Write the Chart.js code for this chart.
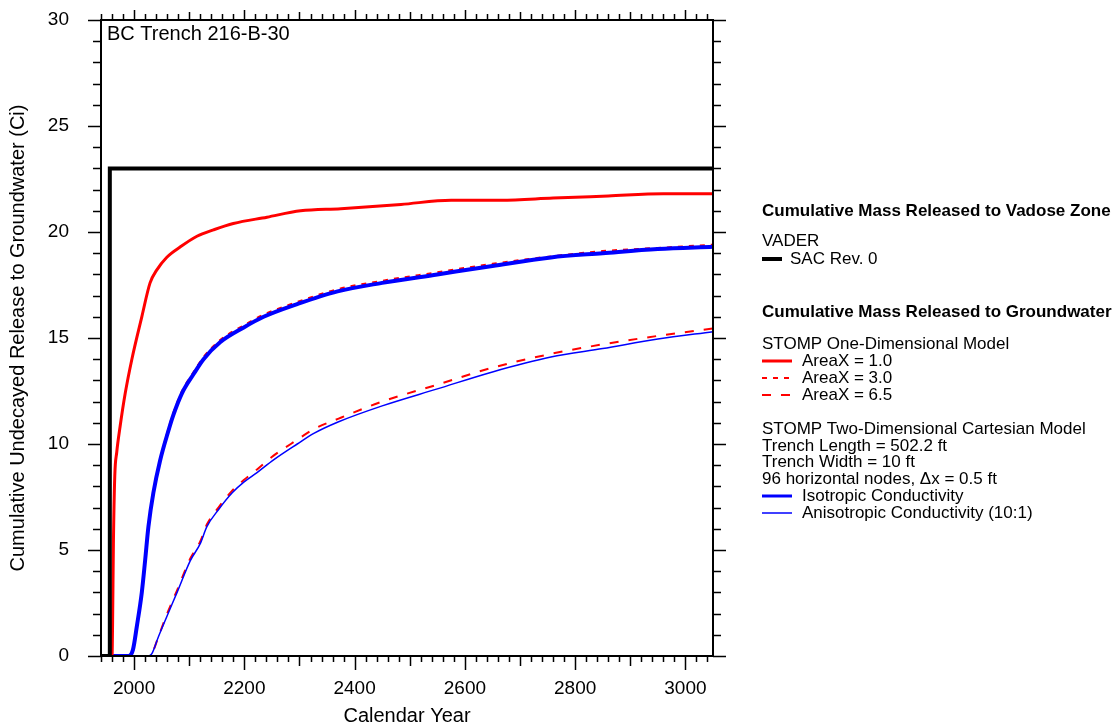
<!DOCTYPE html>
<html>
<head>
<meta charset="utf-8">
<title>BC Trench 216-B-30</title>
<script src="https://cdn.jsdelivr.net/npm/chart.js@4.4.1/dist/chart.umd.min.js"></script>
<style>
  html, body { margin: 0; padding: 0; background: #fff; }
  #wrap { width: 1113px; height: 728px; }
</style>
</head>
<body>
<div id="wrap"><canvas id="releaseChart" width="1113" height="728"></canvas></div>
<script>
// cumulative undecayed release (Ci) against calendar year, one pair of arrays per run
const sacYears = [1940, 1956, 1956, 3050];
const sacRelease = [0, 0, 23, 23];

const area1Years = [1940, 1960, 1961, 1962.5, 1965, 1968.5, 1974.5, 1984, 1996, 2014, 2029, 2041, 2059, 2084, 2114, 2144, 2180, 2241, 2302, 2375, 2484, 2575, 2665, 2760, 2860, 2960, 3050];
const area1Release = [0, 0, 1.5, 5.3, 8.5, 9.6, 10.8, 12.4, 14.0, 16.0, 17.6, 18.2, 18.8, 19.3, 19.8, 20.1, 20.4, 20.7, 21.0, 21.1, 21.3, 21.5, 21.5, 21.6, 21.7, 21.8, 21.8];

const isoYears = [1940, 1990, 1998, 2005, 2014, 2020, 2026, 2035, 2047, 2062, 2071, 2087, 2108, 2126, 2156, 2199, 2235, 2296, 2369, 2450, 2550, 2650, 2756, 2850, 2950, 3050];
const isoRelease = [0, 0, 0.3, 1.4, 3.0, 4.5, 6.1, 7.7, 9.2, 10.6, 11.35, 12.4, 13.3, 14.0, 14.8, 15.5, 16.0, 16.6, 17.2, 17.6, 18.0, 18.4, 18.8, 19.0, 19.2, 19.3];
const area3Release = [0, 0, 0.3, 1.4, 3.0, 4.5, 6.1, 7.7, 9.2, 10.7, 11.45, 12.5, 13.4, 14.1, 14.9, 15.6, 16.1, 16.7, 17.3, 17.7, 18.1, 18.5, 18.85, 19.1, 19.25, 19.4];

const anisoYears = [1940, 2025, 2032, 2044, 2060, 2078, 2102, 2120, 2132, 2153, 2178, 2199, 2223, 2253, 2296, 2326, 2371, 2450, 2550, 2650, 2756, 2850, 2950, 3050];
const anisoRelease = [0, 0, 0.1, 0.9, 1.9, 3.0, 4.5, 5.3, 6.1, 6.9, 7.7, 8.2, 8.65, 9.25, 10.0, 10.5, 11.05, 11.8, 12.6, 13.4, 14.1, 14.5, 14.95, 15.3];
const area65Release = [0, 0, 0.1, 0.9, 2.0, 3.1, 4.6, 5.4, 6.2, 7.0, 7.8, 8.3, 8.8, 9.45, 10.2, 10.7, 11.2, 12.0, 12.8, 13.6, 14.25, 14.7, 15.1, 15.45];

const xLabelYears = [2000, 2200, 2400, 2600, 2800, 3000];
const yLabelValues = [0, 5, 10, 15, 20, 25, 30];

const FONT = "'Liberation Sans', Arial, Helvetica, sans-serif";
Chart.defaults.font.family = FONT;
Chart.defaults.color = '#000';

const points = (xs, ys) => xs.map((x, i) => ({ x: x, y: ys[i] }));

// frame, tick marks on all four sides, inner title and the side legend
const framePlugin = {
  id: 'frame',
  afterDatasetsDraw(chart) {
    const { ctx, chartArea: a, scales: { x, y } } = chart;
    ctx.save();
    ctx.strokeStyle = '#000';
    ctx.lineWidth = 2;
    ctx.strokeRect(a.left, a.top, a.right - a.left, a.bottom - a.top);

    ctx.lineWidth = 1.5;
    ctx.beginPath();
    for (let yr = 1940; yr <= 3050; yr += 20) {
      const px = Math.round(x.getPixelForValue(yr)) + 0.5;
      const down = yr % 200 === 0 ? 14 : yr % 100 === 0 ? 10 : 6;
      const up = yr % 200 === 0 ? 10 : yr % 100 === 0 ? 8 : 6;
      ctx.moveTo(px, a.bottom);
      ctx.lineTo(px, a.bottom + down);
      ctx.moveTo(px, a.top);
      ctx.lineTo(px, a.top - up);
    }
    for (let v = 0; v <= 30; v += 1) {
      const py = Math.round(y.getPixelForValue(v)) + 0.5;
      const len = v % 5 === 0 ? 13 : 8;
      ctx.moveTo(a.left, py);
      ctx.lineTo(a.left - len, py);
      ctx.moveTo(a.right, py);
      ctx.lineTo(a.right + len, py);
    }
    ctx.stroke();
    ctx.restore();
  },
  afterDraw(chart) {
    const ctx = chart.ctx;
    const a = chart.chartArea;
    const byLabel = {};
    chart.data.datasets.forEach(d => { byLabel[d.label] = d; });

    ctx.save();
    ctx.fillStyle = '#000';
    ctx.textBaseline = 'middle';
    ctx.textAlign = 'left';
    ctx.font = '20px ' + FONT;
    ctx.fillText('BC Trench 216-B-30', a.left + 6, a.top + 14);

    const rows = [
      { text: 'Cumulative Mass Released to Vadose Zone', y: 211, bold: true },
      { text: 'VADER', y: 241 },
      { text: 'SAC Rev. 0', y: 259, key: 'SAC Rev. 0', short: true },
      { text: 'Cumulative Mass Released to Groundwater', y: 312, bold: true },
      { text: 'STOMP One-Dimensional Model', y: 344 },
      { text: 'AreaX = 1.0', y: 361, key: 'AreaX = 1.0' },
      { text: 'AreaX = 3.0', y: 378, key: 'AreaX = 3.0' },
      { text: 'AreaX = 6.5', y: 395, key: 'AreaX = 6.5' },
      { text: 'STOMP Two-Dimensional Cartesian Model', y: 429 },
      { text: 'Trench Length = 502.2 ft', y: 446 },
      { text: 'Trench Width = 10 ft', y: 462 },
      { text: '96 horizontal nodes, \u0394x = 0.5 ft', y: 479 },
      { text: 'Isotropic Conductivity', y: 496, key: 'Isotropic Conductivity' },
      { text: 'Anisotropic Conductivity (10:1)', y: 513, key: 'Anisotropic Conductivity (10:1)' }
    ];
    const x0 = 762;
    rows.forEach(r => {
      ctx.font = (r.bold ? 'bold ' : '') + '17px ' + FONT;
      if (r.key) {
        const d = byLabel[r.key];
        const x1 = r.short ? x0 + 20 : x0 + 30;
        ctx.save();
        ctx.strokeStyle = d.borderColor;
        ctx.lineWidth = r.short ? 4 : Math.min(d.borderWidth, 3);
        ctx.setLineDash(d.borderDash || []);
        ctx.beginPath();
        ctx.moveTo(x0, r.y);
        ctx.lineTo(x1, r.y);
        ctx.stroke();
        ctx.restore();
        ctx.fillText(r.text, r.short ? x0 + 28 : x0 + 40, r.y);
      } else {
        ctx.fillText(r.text, x0, r.y);
      }
    });
    ctx.restore();
  }
};

const ctx = document.getElementById('releaseChart').getContext('2d');
new Chart(ctx, {
  type: 'line',
  data: {
    datasets: [
      { label: 'SAC Rev. 0', data: points(sacYears, sacRelease), borderColor: '#000000', borderWidth: 4, tension: 0 },
      { label: 'AreaX = 1.0', data: points(area1Years, area1Release), borderColor: '#ff0000', borderWidth: 3, cubicInterpolationMode: 'monotone' },
      { label: 'Isotropic Conductivity', data: points(isoYears, isoRelease), borderColor: '#0000ff', borderWidth: 4, cubicInterpolationMode: 'monotone' },
      { label: 'Anisotropic Conductivity (10:1)', data: points(anisoYears, anisoRelease), borderColor: '#0000ff', borderWidth: 1.5, cubicInterpolationMode: 'monotone' },
      { label: 'AreaX = 3.0', data: points(isoYears, area3Release), borderColor: '#ff0000', borderWidth: 2, borderDash: [5, 6], cubicInterpolationMode: 'monotone' },
      { label: 'AreaX = 6.5', data: points(anisoYears, area65Release), borderColor: '#ff0000', borderWidth: 2, borderDash: [9, 10], cubicInterpolationMode: 'monotone' }
    ]
  },
  options: {
    responsive: false,
    animation: false,
    devicePixelRatio: 1,
    elements: { point: { radius: 0 } },
    layout: { padding: { left: 0, top: 20, right: 400, bottom: 0 } },
    plugins: {
      legend: { display: false },
      tooltip: { enabled: false }
    },
    scales: {
      x: {
        type: 'linear',
        min: 1940,
        max: 3050,
        afterFit: (scale) => { scale.height = 72; scale.paddingLeft = 0; scale.paddingRight = 0; },
        afterBuildTicks: (scale) => { scale.ticks = xLabelYears.map(v => ({ value: v })); },
        grid: { display: false },
        border: { display: false },
        ticks: { font: { size: 19 }, padding: 13, maxRotation: 0, callback: (v) => String(v) },
        title: { display: true, text: 'Calendar Year', font: { size: 20 }, padding: { top: 0, bottom: 0 } }
      },
      y: {
        min: 0,
        max: 30,
        afterFit: (scale) => { scale.width = 101; scale.paddingTop = 0; scale.paddingBottom = 0; },
        afterBuildTicks: (scale) => { scale.ticks = yLabelValues.map(v => ({ value: v })); },
        grid: { display: false },
        border: { display: false },
        ticks: { font: { size: 19 }, padding: 24, callback: (v) => String(v) },
        title: { display: true, text: 'Cumulative Undecayed Release to Groundwater (Ci)', font: { size: 20 }, padding: { top: 6, bottom: 0 } }
      }
    }
  },
  plugins: [framePlugin]
});
</script>
</body>
</html>
